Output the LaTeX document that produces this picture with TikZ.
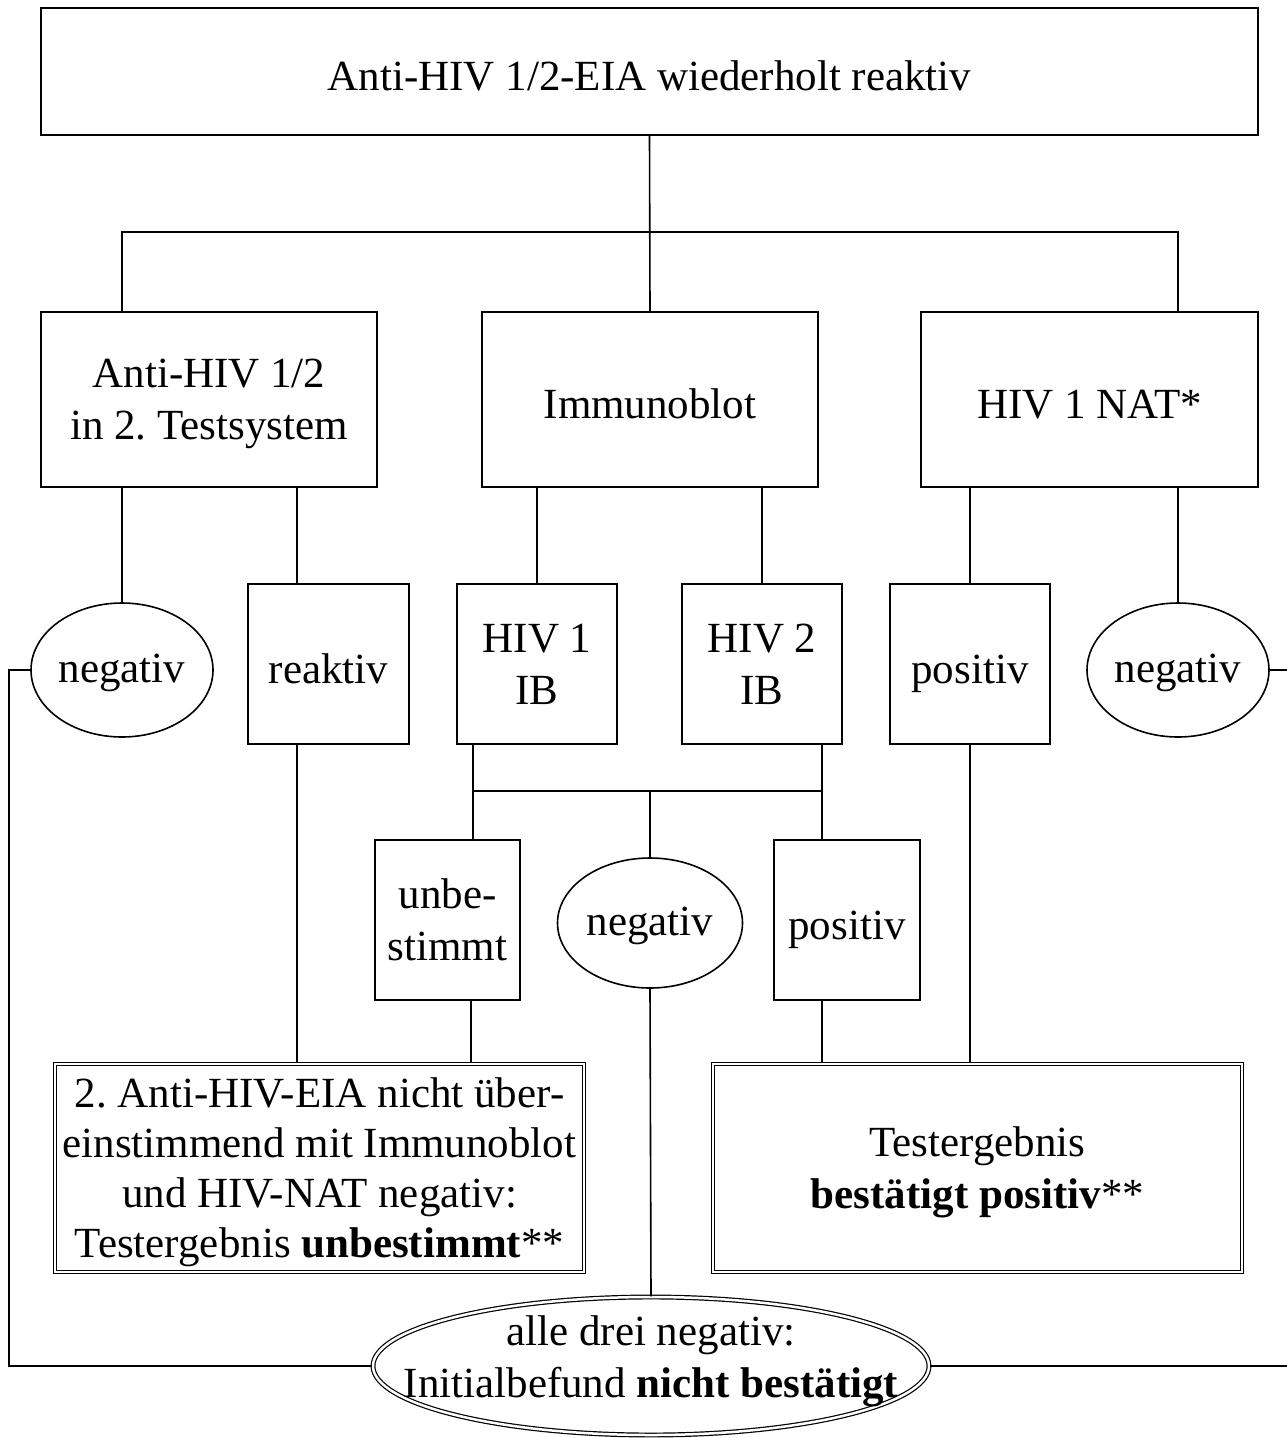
\documentclass[tikz,border=0pt]{standalone}
\usepackage{fontspec}
\setmainfont{Liberation Serif}
\usetikzlibrary{shapes.geometric}
\newcommand\mystrut{\vrule width 0pt height 38pt depth 10pt}
\newcommand\boxstrut{\vrule width 0pt height 48pt depth 10pt}
\newcommand\ovalstrut{\vrule width 0pt height 36pt depth 12pt}
\begin{document}
\frenchspacing
\begin{tikzpicture}[x=1pt,y=-1pt,
  every node/.style={font=\fontsize{43}{52}\selectfont, inner sep=0pt, align=center},
  line/.style={line width=1.6pt},
  rbox/.style={draw, line width=1.6pt, rectangle},
  oval/.style={draw, line width=1.6pt, ellipse},
  dbox/.style={draw, rectangle, line width=1.2pt, double, double distance=2.5pt},
  doval/.style={draw, ellipse, line width=1.2pt, double, double distance=2.5pt}]
\useasboundingbox (0,0) rectangle (1287,1438);
% helper coordinates
\coordinate (c297) at (297,0);
\coordinate (c471) at (471,0);
\coordinate (c473) at (473,0);
\coordinate (c822) at (822,0);
\coordinate (bar) at (650,232);
\coordinate (ibbar) at (650,791);
\coordinate (cL) at (9,1366);
\coordinate (cR) at (1292,1366);
% nodes
\node[rbox, minimum width=1217pt, minimum height=127pt] (top) at (649.5,71.5) {\boxstrut Anti-HIV 1/2-EIA wiederholt reaktiv};
\node[rbox, minimum width=336pt, minimum height=175pt] (box1) at (209,399.5) {\mystrut Anti-HIV 1/2\\\mystrut in 2. Testsystem};
\node[rbox, minimum width=336pt, minimum height=175pt] (box2) at (650,399.5) {\boxstrut Immunoblot};
\node[rbox, minimum width=337pt, minimum height=175pt] (box3) at (1089.5,399.5) {\boxstrut HIV 1 NAT*};
\node[oval, minimum width=182pt, minimum height=134pt] (negL) at (122,670) {\ovalstrut negativ};
\node[rbox, minimum width=161pt, minimum height=160pt] (reaktiv) at (328.5,664) {\boxstrut reaktiv};
\node[rbox, minimum width=160pt, minimum height=160pt] (ib1) at (537,664) {\mystrut HIV 1\\\mystrut IB};
\node[rbox, minimum width=160pt, minimum height=160pt] (ib2) at (762,664) {\mystrut HIV 2\\\mystrut IB};
\node[rbox, minimum width=160pt, minimum height=160pt] (posR) at (970,664) {\boxstrut positiv};
\node[oval, minimum width=182pt, minimum height=134pt] (negR) at (1178,670) {\ovalstrut negativ};
\node[rbox, minimum width=145pt, minimum height=160pt] (unb) at (447.5,920) {\mystrut unbe-\\\mystrut stimmt};
\node[oval, minimum width=185pt, minimum height=130pt] (negM) at (650,923) {\ovalstrut negativ};
\node[rbox, minimum width=146pt, minimum height=160pt] (posM) at (847,920) {\boxstrut positiv};
\node[dbox, minimum width=529pt, minimum height=208pt, font=\fontsize{43}{50}\selectfont] (dblL) at (319.5,1168) {\mystrut 2. Anti-HIV-EIA nicht über-\\\mystrut einstimmend mit Immunoblot\\\mystrut und HIV-NAT negativ:\\\mystrut Testergebnis \textbf{unbestimmt}**};
\node[dbox, minimum width=529pt, minimum height=208pt] (dblR) at (977.5,1168) {\mystrut Testergebnis\\\mystrut\textbf{bestätigt positiv}**};
\node[doval, minimum width=556pt, minimum height=138pt] (fin) at (651,1366) {};
\node (fintext) at (651,1357) {\mystrut alle drei negativ:\\\mystrut Initialbefund \textbf{nicht bestätigt}};
% connectors
\draw[line] (top.south) -- (box2.north);
\draw[line] (negL |- box1.north) |- (bar) -| (negR |- box3.north);
\draw[line] (negL |- box1.south) -- (negL.north);
\draw[line] (box1.south -| c297) -- (reaktiv.north -| c297);
\draw[line] (box2.south -| ib1) -- (ib1.north);
\draw[line] (box2.south -| ib2) -- (ib2.north);
\draw[line] (box3.south -| posR) -- (posR.north);
\draw[line] (box3.south -| negR) -- (negR.north);
\draw[line] (ib1.south -| c473) |- (ibbar) -| (ib2.south -| c822);
\draw[line] (ibbar) -- (negM.north);
\draw[line] (ibbar -| c473) -- (unb.north -| c473);
\draw[line] (ibbar -| c822) -- (posM.north -| c822);
\draw[line] (reaktiv.south -| c297) -- (dblL.north -| c297);
\draw[line] (unb.south -| c471) -- (dblL.north -| c471);
\draw[line] (posM.south -| c822) -- (dblR.north -| c822);
\draw[line] (posR.south) -- (dblR.north -| posR);
\draw[line] (negM.south) -- (fin.north);
\draw[line] (negL.west) -| (cL) -- (fin.west);
\draw[line] (negR.east) -| (cR) -- (fin.east);
\end{tikzpicture}
\end{document}
